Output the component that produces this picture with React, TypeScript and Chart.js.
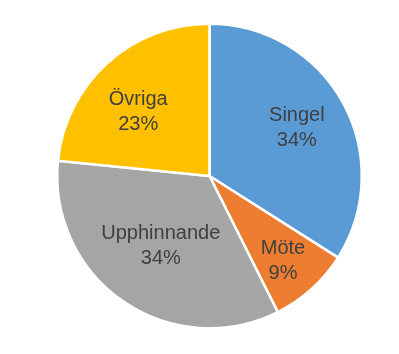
import React, { useEffect, useRef } from "react";
import { Chart, registerables } from "chart.js";

Chart.register(...registerables);

const categories = ["Singel", "Möte", "Upphinnande", "Övriga"];
const values = [34.0, 8.6, 34.0, 23.4];
const colors = ["#5B9BD5", "#ED7D31", "#A5A5A5", "#FFC000"];

// label placement (fraction of radius, angle shift in degrees)
const labelRadius = [0.655, 0.74, 0.56, 0.63];
const labelAngleShift = [0, 1.4, 0.3, -5.9];

const labelPlugin = {
  id: "sliceLabels",
  afterDatasetsDraw(chart: any) {
    const ctx = chart.ctx;
    const meta = chart.getDatasetMeta(0);
    const data = chart.data.datasets[0].data as number[];
    const total = data.reduce((a, b) => a + b, 0);
    ctx.save();
    ctx.font = '20px "Liberation Sans", Arial, sans-serif';
    ctx.fillStyle = "#404040";
    ctx.textAlign = "center";
    ctx.textBaseline = "middle";
    meta.data.forEach((arc: any, i: number) => {
      const p = arc.getProps(["x", "y", "startAngle", "endAngle", "outerRadius"], true);
      const mid = (p.startAngle + p.endAngle) / 2 + (labelAngleShift[i] * Math.PI) / 180;
      const r = p.outerRadius * labelRadius[i];
      const cx = p.x + Math.cos(mid) * r;
      const cy = p.y + Math.sin(mid) * r;
      const pct = Math.round((data[i] / total) * 100) + "%";
      ctx.fillText(chart.data.labels[i], cx, cy - 12.5);
      ctx.fillText(pct, cx, cy + 12.5);
    });
    ctx.restore();
  },
};

export default function App() {
  const ref = useRef<HTMLCanvasElement>(null);
  useEffect(() => {
    if (!ref.current) return;
    const chart = new Chart(ref.current, {
      type: "pie",
      data: {
        labels: categories,
        datasets: [
          {
            data: values,
            backgroundColor: colors,
            borderColor: "#FFFFFF",
            borderWidth: 2.5,
          },
        ],
      },
      options: {
        responsive: false,
        animation: false,
        layout: { padding: { left: 56, right: 36, top: 22.5, bottom: 24.5 } },
        plugins: {
          legend: { display: false },
          tooltip: { enabled: false },
        },
      },
      plugins: [labelPlugin],
    });
    return () => chart.destroy();
  }, []);
  return (
    <div style={{ position: "fixed", left: 0, top: 0, width: 399, height: 354, background: "#fff" }}>
      <canvas ref={ref} width={399} height={354} />
    </div>
  );
}
